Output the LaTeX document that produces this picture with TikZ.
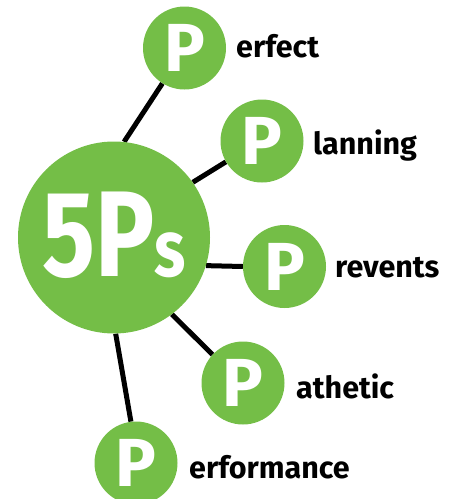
\documentclass[tikz,border=0pt]{standalone}
\usepackage{graphicx}
\usepackage{fontspec}
\setmainfont{Fira Sans}
\definecolor{pgreen}{HTML}{74BE47}
\pgfdeclarelayer{bg}
\pgfsetlayers{bg,main}
\begin{document}
\begin{tikzpicture}[x=1pt,y=-1pt,
  bubble/.style={circle,fill=pgreen,inner sep=0,minimum size=#1},
  pletter/.style={inner sep=0,text=white,font=\bfseries\fontsize{68}{68}\selectfont},
  link/.style={line width=5pt,black},
  word/.style={anchor=base west,inner sep=0,font=\bfseries\fontsize{30.5}{30.5}\selectfont}]
\useasboundingbox (0,0) rectangle (458,499);
\node[bubble=192] (big) at (114,237.5) {};
\node[anchor=base,inner sep=0,text=white] (title) at (114,276)
  {\scalebox{0.81}[1]{\bfseries\fontsize{122}{122}\selectfont 5P\fontsize{80}{80}\selectfont s}};
\node[bubble=83] (c1) at (184.5,48) {};
\node[bubble=83] (c2) at (262,141) {};
\node[bubble=83] (c3) at (284.5,266.5) {};
\node[bubble=83] (c4) at (243,383) {};
\node[bubble=83] (c5) at (136,463) {};
\node[pletter] (p1) at (c1) {P};
\node[pletter] (p2) at (c2) {P};
\node[pletter] (p3) at (c3) {P};
\node[pletter] (p4) at (c4) {P};
\node[pletter] (p5) at (c5) {P};
\node[word] (w1) at (236,57) {erfect};
\node[word] (w2) at (313,154) {lanning};
\node[word] (w3) at (335,277) {revents};
\node[word] (w4) at (296,398) {athetic};
\node[word] (w5) at (189,478) {erformance};
\begin{pgfonlayer}{bg}
\draw[link] (big.84) -- (c1.238);
\draw[link] (big.35) -- (c2.210);
\draw[link] (big.-17) -- (c3.180);
\draw[link] (big.-53) -- (c4.137);
\draw[link] (big.-89) -- (c5.97);
\end{pgfonlayer}
\end{tikzpicture}
\end{document}
